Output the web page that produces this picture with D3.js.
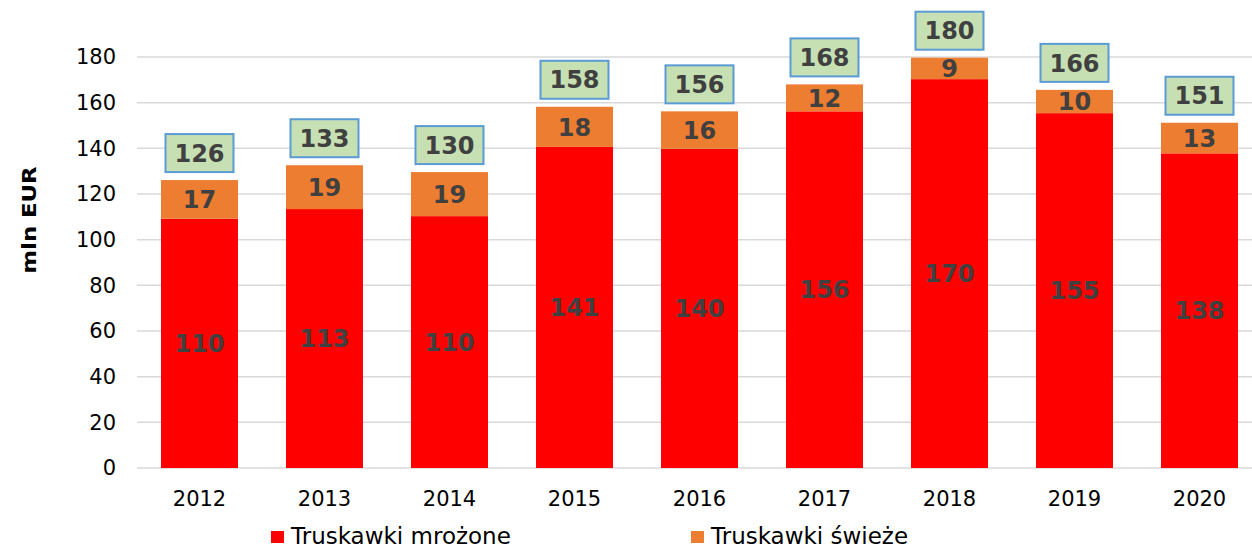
<!DOCTYPE html>
<html><head><meta charset="utf-8">
<script src="https://cdn.jsdelivr.net/npm/d3@7"></script>
<style>
html,body{margin:0;padding:0;background:#fff;}
text{font-family:"DejaVu Sans",Verdana,sans-serif;}
</style>
</head><body>
<svg id="chart" width="1252" height="550"></svg>
<script>
const years = ["2012","2013","2014","2015","2016","2017","2018","2019","2020"];
const frozen = [109.2, 113.4, 110.3, 140.6, 139.8, 156.2, 170.3, 155.4, 137.8];
const fresh = [16.9, 19.2, 19.3, 17.6, 16.4, 11.8, 9.4, 10.2, 13.4];
const frozenLabels = ["110","113","110","141","140","156","170","155","138"];
const freshLabels = ["17","19","19","18","16","12","9","10","13"];
const totalLabels = ["126","133","130","158","156","168","180","166","151"];
const yTicks = [0,20,40,60,80,100,120,140,160,180];
const seriesNames = ["Truskawki mrożone","Truskawki świeże"];
const colors = ["#FF0000","#ED7D31"];

const svg = d3.select("#chart");
const x = d3.scaleBand().domain(years).range([137,1262]).paddingInner(0.384).paddingOuter(0.192);
const y = d3.scaleLinear().domain([0,180]).range([468,57]);

// gridlines
svg.append("g").selectAll("line").data(yTicks).join("line")
  .attr("x1",137).attr("x2",1252)
  .attr("y1",d=>y(d)).attr("y2",d=>y(d))
  .attr("stroke","#d9d9d9").attr("stroke-width",1.5);

// y axis
const yAxis = svg.append("g").attr("transform","translate(126,0)")
  .call(d3.axisLeft(y).tickValues(yTicks).tickSize(0).tickPadding(0));
yAxis.select(".domain").remove();
yAxis.selectAll("text").attr("font-size",21).attr("fill","#000")
  .attr("font-family","DejaVu Sans, Verdana, sans-serif").attr("dx","-10");

// x axis
const xAxis = svg.append("g").attr("transform","translate(0,468)")
  .call(d3.axisBottom(x).tickSize(0).tickPadding(23));
xAxis.select(".domain").remove();
xAxis.selectAll("text").attr("font-size",21).attr("fill","#000")
  .attr("font-family","DejaVu Sans, Verdana, sans-serif");

// y title
svg.append("text").attr("transform","translate(36,220) rotate(-90) scale(1.2,1)")
  .attr("text-anchor","middle").attr("font-size",19).attr("font-weight","bold")
  .attr("fill","#000").text("mln EUR");

const data = years.map((yr,i)=>({yr, f:frozen[i], s:fresh[i], fl:frozenLabels[i], sl:freshLabels[i], tl:totalLabels[i]}));

// bars
const g = svg.append("g");
g.selectAll("rect.fz").data(data).join("rect").attr("class","fz")
  .attr("x",d=>x(d.yr)).attr("width",x.bandwidth())
  .attr("y",d=>y(d.f)).attr("height",d=>y(0)-y(d.f)).attr("fill",colors[0]);
g.selectAll("rect.fr").data(data).join("rect").attr("class","fr")
  .attr("x",d=>x(d.yr)).attr("width",x.bandwidth())
  .attr("y",d=>y(d.f+d.s)).attr("height",d=>y(d.f)-y(d.f+d.s)).attr("fill",colors[1]);

const lblColor = "#404040";
g.selectAll("text.fzl").data(data).join("text").attr("class","fzl")
  .attr("x",d=>x(d.yr)+x.bandwidth()/2).attr("y",d=>(y(0)+y(d.f))/2)
  .attr("dy","0.36em").attr("text-anchor","middle").attr("font-size",24)
  .attr("font-weight","bold").attr("fill",lblColor).text(d=>d.fl);
g.selectAll("text.frl").data(data).join("text").attr("class","frl")
  .attr("x",d=>x(d.yr)+x.bandwidth()/2).attr("y",d=>(y(d.f)+y(d.f+d.s))/2)
  .attr("dy","0.36em").attr("text-anchor","middle").attr("font-size",24)
  .attr("font-weight","bold").attr("fill",lblColor).text(d=>d.sl);

// total boxes
const bw = 68, bh = 38;
const tb = g.selectAll("g.tot").data(data).join("g").attr("class","tot")
  .attr("transform",d=>`translate(${x(d.yr)+x.bandwidth()/2},${y(d.f+d.s)-8-bh/2})`);
tb.append("rect").attr("x",-bw/2).attr("y",-bh/2).attr("width",bw).attr("height",bh)
  .attr("fill","#C6E0B4").attr("stroke","#5B9BD5").attr("stroke-width",2);
tb.append("text").attr("text-anchor","middle").attr("dy","0.36em")
  .attr("font-size",24).attr("font-weight","bold").attr("fill",lblColor).text(d=>d.tl);

// legend
const legX = [271, 691];
const lg = svg.append("g").selectAll("g").data(seriesNames).join("g")
  .attr("transform",(d,i)=>`translate(${legX[i]},531)`);
lg.append("rect").attr("width",13).attr("height",12).attr("fill",(d,i)=>colors[i]);
lg.append("text").attr("x",20).attr("y",13)
  .attr("font-size",23).attr("fill","#000").text(d=>d);
</script>
</body></html>
